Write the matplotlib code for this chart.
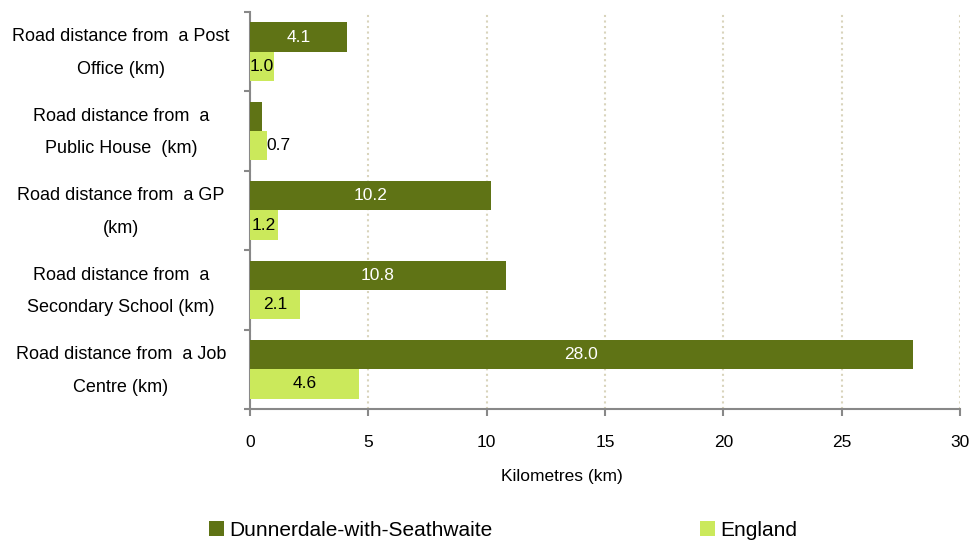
import numpy as np
import matplotlib.pyplot as plt
import matplotlib.transforms as mtransforms

plt.rcParams['font.family'] = ['Liberation Sans', 'DejaVu Sans']

categories = ['Road distance from  a Post\nOffice (km)',
              'Road distance from  a\nPublic House  (km)',
              'Road distance from  a GP\n(km)',
              'Road distance from  a\nSecondary School (km)',
              'Road distance from  a Job\nCentre (km)']
dunnerdale = [4.1, 0.5, 10.2, 10.8, 28.0]
england = [1.0, 0.7, 1.2, 2.1, 4.6]
series_names = ['Dunnerdale-with-Seathwaite', 'England']

dark = '#5f7315'
light = '#cbe95b'

fig = plt.figure(figsize=(9.71, 5.43), dpi=100)
ax = fig.add_axes([250 / 971, 1 - 409 / 543, 710 / 971, 397 / 543])

y = np.arange(len(categories))
h = 0.37
b1 = ax.barh(y - h / 2, dunnerdale, height=h, color=dark, label=series_names[0], zorder=3)
b2 = ax.barh(y + h / 2, england, height=h, color=light, label=series_names[1], zorder=3)

# data labels
for yi, v in zip(y, dunnerdale):
    if v >= 1:
        ax.text(v / 2, yi - h / 2, f'{v:.1f}', ha='center', va='center',
                color='white', fontsize=12.5, zorder=4)
for yi, v in zip(y, england):
    if v >= 1:
        ax.text(v / 2, yi + h / 2, f'{v:.1f}', ha='center', va='center',
                color='black', fontsize=12.5, zorder=4)
    else:
        ax.text(v, yi + h / 2, f'{v:.1f}', ha='left', va='center',
                color='black', fontsize=12.5, zorder=4)

ax.set_xlim(0, 30)
ax.set_ylim(4.5, -0.5)
ax.set_xticks(np.arange(0, 31, 5))
ax.tick_params(axis='x', length=5, width=1.5, color='#888888', pad=14, labelsize=12.5)
ax.set_yticks([])
ax.set_yticks(np.arange(-0.5, 4.6, 1), minor=True)
ax.tick_params(axis='y', which='minor', length=4, width=1.5, color='#888888')

for s in ['top', 'right']:
    ax.spines[s].set_visible(False)
for s in ['left', 'bottom']:
    ax.spines[s].set_color('#888888')
    ax.spines[s].set_linewidth(1.5)

ax.grid(axis='x', linestyle=':', color='#d9d4bc', linewidth=1.5, zorder=0)

trans = mtransforms.blended_transform_factory(fig.transFigure, ax.transData)
for yi, lab in zip(y, categories):
    ax.text(121 / 971, yi + 0.02, lab, transform=trans, ha='center', va='center',
            multialignment='center', fontsize=13, linespacing=2.2)

fig.text(562 / 971, 1 - 477 / 543, 'Kilometres (km)', ha='center', va='center', fontsize=12.5)

fig.legend(handles=[b1, b2], loc='center left', bbox_to_anchor=(209 / 971, 1 - 530 / 543),
           ncol=2, frameon=False, fontsize=15, handlelength=0.7, handleheight=0.7,
           handletextpad=0.25, columnspacing=10.0, borderaxespad=0, borderpad=0)

fig.savefig('out.png', dpi=100)
